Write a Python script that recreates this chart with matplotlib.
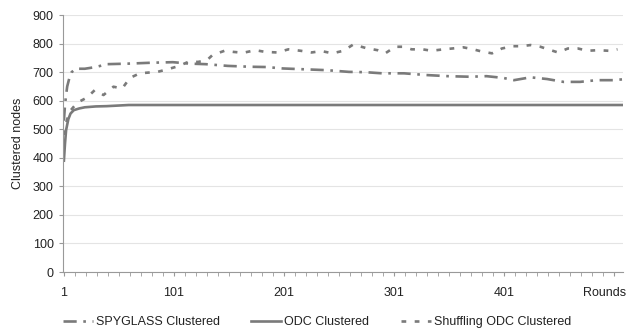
import numpy as np
import matplotlib
matplotlib.use("Agg")
import matplotlib.pyplot as plt
from matplotlib.transforms import ScaledTranslation

plt.rcParams['font.family'] = ['Liberation Sans', 'DejaVu Sans']

# values (round number -> clustered nodes)
spy_rounds = [1, 2, 3, 4, 6, 8, 12, 20, 30, 40, 60, 80, 100, 115, 130, 150, 170,
              185, 200, 220, 240, 260, 275, 290, 310, 330, 350, 370, 385, 400,
              410, 425, 440, 455, 470, 485, 500, 509]
spy_vals = [530, 585, 620, 650, 680, 700, 712, 712, 718, 728, 730, 733, 735, 730,
            728, 722, 719, 718, 713, 710, 707, 701, 700, 696, 696, 690, 686, 684,
            686, 680, 672, 682, 676, 666, 666, 672, 672, 675]

odc_rounds = [1, 2, 3, 5, 7, 10, 15, 20, 30, 40, 60, 100, 200, 300, 400, 509]
odc_vals = [390, 450, 497, 535, 555, 567, 573, 577, 580, 581, 585, 585, 585, 585,
            585, 585]

shuf_rounds = [1, 2, 6, 13, 22, 29, 37, 46, 54, 61, 70, 76, 86, 95, 105, 114, 123,
               131, 136, 147, 155, 164, 175, 184, 195, 205, 216, 226, 235, 245,
               255, 264, 275, 286, 293, 302, 309, 317, 327, 335, 346, 354, 364,
               373, 381, 390, 399, 409, 417, 425, 434, 441, 450, 459, 468, 477,
               486, 496, 504]
shuf_vals = [480, 509, 561, 593, 611, 637, 620, 649, 643, 680, 696, 698, 701, 710,
             721, 736, 736, 742, 760, 775, 771, 768, 777, 771, 769, 780, 775, 769,
             774, 766, 775, 797, 785, 777, 766, 789, 789, 780, 780, 775, 780, 783,
             787, 780, 772, 766, 783, 791, 791, 795, 789, 780, 769, 783, 783, 775,
             777, 775, 780]

x_ticks = [1, 101, 201, 301, 401, 501]
x_labels = ['1', '101', '201', '301', '401', 'Rounds']
y_ticks = [0, 100, 200, 300, 400, 500, 600, 700, 800, 900]

col = '#7a7a7a'

fig = plt.figure(figsize=(6.28, 3.35), dpi=100)
ax = fig.add_axes([0.100, 0.188, 0.892, 0.767])

ax.plot(spy_rounds, spy_vals, color=col, lw=1.9, dashes=(5, 2.5, 1, 2.5),
        label='SPYGLASS Clustered')
ax.plot(odc_rounds, odc_vals, color=col, lw=1.9, label='ODC Clustered')
ax.plot(shuf_rounds, shuf_vals, color=col, lw=1.9, dashes=(1.8, 3.2),
        label='Shuffling ODC Clustered')

ax.set_xlim(0, 509)
ax.set_ylim(0, 900)
ax.set_yticks(y_ticks)
ax.set_xticks(x_ticks)
ax.set_xticklabels(x_labels)
ax.set_xticks(np.arange(1, 510, 10), minor=True)
ax.tick_params(axis='both', labelsize=9, colors='#222222', length=3,
               width=0.8, direction='out')
ax.tick_params(axis='x', which='both', color='#999999', pad=8)
ax.tick_params(axis='y', color='#999999')
ax.tick_params(axis='x', which='minor', length=3)

# pull the last category label back inside the figure
last = ax.get_xticklabels()[-1]
last.set_transform(last.get_transform() + ScaledTranslation(-10 / 100, 0, fig.dpi_scale_trans))

ax.grid(axis='y', color='#e4e4e4', lw=0.8)
ax.set_axisbelow(True)
for s in ['top', 'right']:
    ax.spines[s].set_visible(False)
for s in ['left', 'bottom']:
    ax.spines[s].set_color('#999999')
    ax.spines[s].set_linewidth(0.8)

ax.set_ylabel('Clustered nodes', fontsize=9, color='#222222', labelpad=6)

fig.legend(loc='lower left', bbox_to_anchor=(0.100, 0.02), ncol=3, frameon=False,
           fontsize=9, handlelength=2.4, handletextpad=0.25, columnspacing=2.5,
           borderpad=0, borderaxespad=0, labelcolor='#222222')

fig.savefig('out.png', dpi=100)
